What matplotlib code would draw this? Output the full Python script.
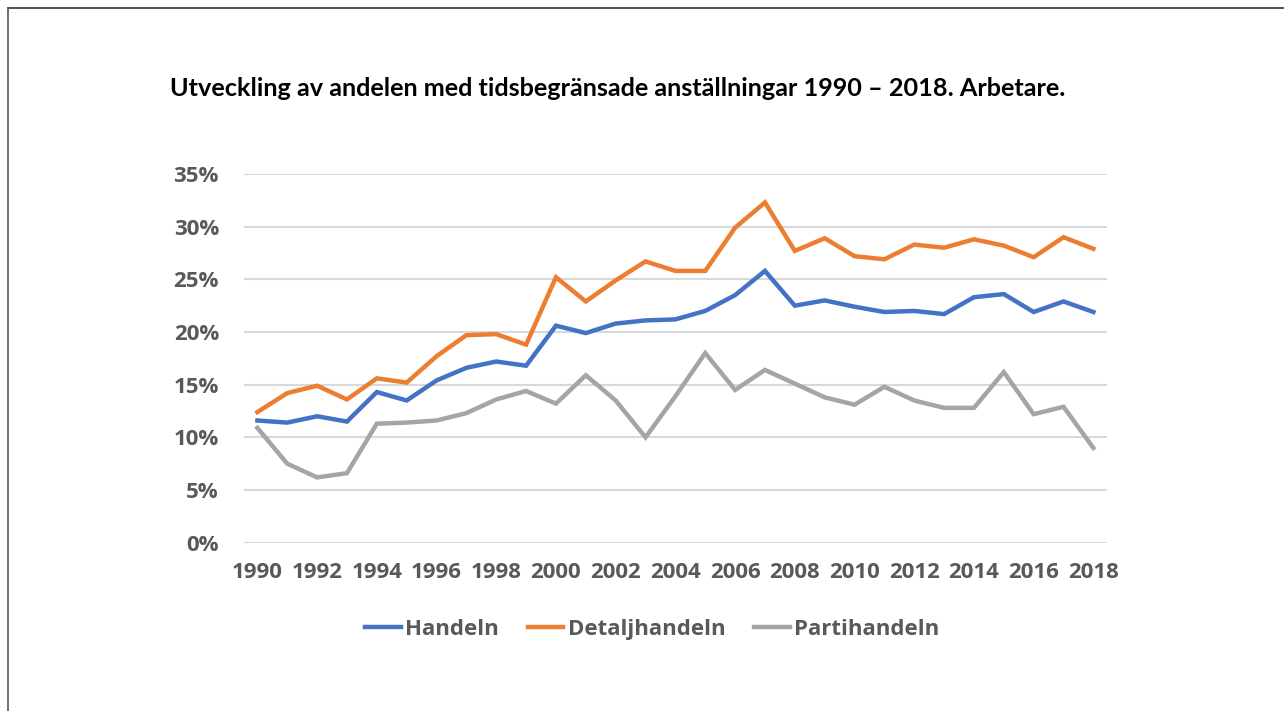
import matplotlib.pyplot as plt
from matplotlib.lines import Line2D
from matplotlib.ticker import FuncFormatter

years = list(range(1990, 2019))

handeln = [11.6, 11.4, 12.0, 11.5, 14.3, 13.5, 15.4, 16.6, 17.2, 16.8,
           20.6, 19.9, 20.8, 21.1, 21.2, 22.0, 23.5, 25.8, 22.5, 23.0,
           22.4, 21.9, 22.0, 21.7, 23.3, 23.6, 21.9, 22.9, 21.9]
detaljhandeln = [12.4, 14.2, 14.9, 13.6, 15.6, 15.2, 17.7, 19.7, 19.8, 18.8,
                 25.2, 22.9, 24.9, 26.7, 25.8, 25.8, 29.9, 32.3, 27.7, 28.9,
                 27.2, 26.9, 28.3, 28.0, 28.8, 28.2, 27.1, 29.0, 27.9]
partihandeln = [10.9, 7.5, 6.2, 6.6, 11.3, 11.4, 11.6, 12.3, 13.6, 14.4,
                13.2, 15.9, 13.5, 10.0, 13.9, 18.0, 14.5, 16.4, 15.1, 13.8,
                13.1, 14.8, 13.5, 12.8, 12.8, 16.2, 12.2, 12.9, 9.0]

series_names = ["Handeln", "Detaljhandeln", "Partihandeln"]
series_colors = ["#4472C4", "#ED7D31", "#A5A5A5"]

plt.rcParams['font.family'] = ['Open Sans', 'DejaVu Sans']

fig = plt.figure(figsize=(12.84, 7.11), dpi=100)
ax = fig.add_axes([0.190, 0.2367, 0.672, 0.5186])

for vals, name, col in zip([handeln, detaljhandeln, partihandeln], series_names, series_colors):
    ax.plot(years, vals, color=col, lw=3.2, label=name, solid_joinstyle='miter')

ax.set_ylim(0, 35)
ax.set_xlim(1989.55, 2018.45)
ax.set_yticks(range(0, 36, 5))
ax.set_xticks(range(1990, 2019, 2))
ax.yaxis.set_major_formatter(FuncFormatter(lambda v, p: f"{int(v)}%"))
ax.grid(axis='y', color='#D9D9D9', lw=1.5)
ax.set_axisbelow(True)
for s in ax.spines.values():
    s.set_visible(False)
ax.tick_params(length=0, labelsize=16, labelcolor='#595959')
ax.tick_params(axis='y', pad=18)
ax.tick_params(axis='x', pad=14)
for lab in ax.get_xticklabels() + ax.get_yticklabels():
    lab.set_fontweight('bold')

fig.text(0.1325, 0.876, "Utveckling av andelen med tidsbegränsade anställningar 1990 – 2018. Arbetare.",
         fontsize=18.2, fontweight='bold', color='black', family=['Lato', 'DejaVu Sans'],
         va='center', ha='left')

leg = fig.legend(loc='center', bbox_to_anchor=(0.508, 0.115), ncol=3, frameon=False,
                 handlelength=1.6, handletextpad=0.2, columnspacing=1.3,
                 prop={'size': 16, 'weight': 'bold'})
for t in leg.get_texts():
    t.set_color('#595959')

# thin frame at top and left edge
fig.add_artist(Line2D([0.0065, 1.0], [0.989, 0.989], color='#333333', lw=1.2, transform=fig.transFigure))
fig.add_artist(Line2D([0.0065, 0.0065], [0.0, 0.989], color='#555555', lw=1.2, transform=fig.transFigure))

fig.savefig("out.png", dpi=100)
